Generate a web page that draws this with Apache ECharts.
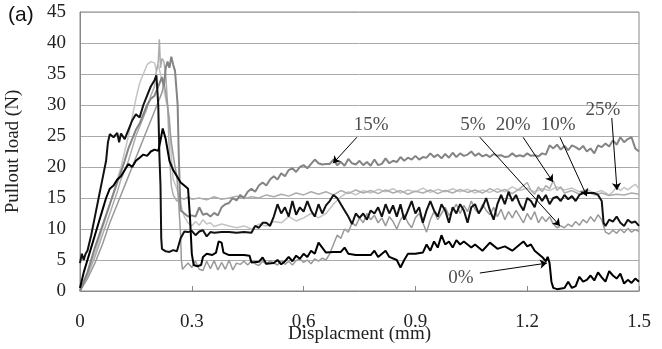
<!DOCTYPE html>
<html>
<head>
<meta charset="UTF-8">
<title>Pullout load</title>
<script src="https://cdn.jsdelivr.net/npm/echarts@6/dist/echarts.min.js"></script>
<style>
  html, body { margin: 0; padding: 0; background: #fff; }
  #main { width: 662px; height: 349px; }
</style>
</head>
<body>
<div id="main"></div>
<script>
// x = displacement (mm), y = pullout load (N)
var load0 = [[0,0.5],[0.01,3],[0.02,5],[0.03,7],[0.04,9],[0.05,11],[0.06,13],[0.07,15],[0.08,16.5],[0.09,17],[0.1,18],[0.11,18.5],[0.12,19.5],[0.13,20.5],[0.14,20],[0.15,21],[0.16,21.5],[0.17,22],[0.18,21.8],[0.19,22.5],[0.2,22.8],[0.21,22.6],[0.215,24],[0.222,26.2],[0.23,24.5],[0.24,21],[0.25,19.5],[0.26,18.5],[0.27,17.5],[0.28,17],[0.29,16.5],[0.295,12],[0.3,6],[0.305,4.2],[0.315,4],[0.325,4.2],[0.33,5.5],[0.34,6],[0.355,5.8],[0.365,6.2],[0.372,8],[0.38,7.8],[0.385,6.2],[0.4,5.8],[0.42,5.8],[0.44,5.8],[0.455,5.7],[0.46,4.6],[0.48,4.7],[0.49,5.4],[0.5,4.4],[0.52,4.5],[0.53,5],[0.54,4.3],[0.55,4.8],[0.56,5.5],[0.57,4.8],[0.58,5.7],[0.59,5.2],[0.6,6],[0.61,5.5],[0.62,6.5],[0.63,6],[0.64,7.8],[0.65,7],[0.66,6.2],[0.68,6.3],[0.7,6.3],[0.71,7],[0.72,6],[0.74,5.8],[0.76,5.8],[0.78,5.8],[0.79,6.5],[0.8,5.5],[0.82,6.5],[0.83,5.5],[0.85,5],[0.86,3.8],[0.87,5],[0.88,6],[0.9,6],[0.92,6.2],[0.93,7.5],[0.94,6.5],[0.95,8],[0.96,7],[0.97,9],[0.98,7.5],[0.99,8],[1.0,7],[1.01,8.2],[1.02,7.5],[1.03,8],[1.05,7],[1.06,7.5],[1.08,6.5],[1.1,7.8],[1.12,6.8],[1.14,7.2],[1.16,6.5],[1.18,7.5],[1.19,8],[1.2,7.2],[1.21,7.5],[1.22,6.5],[1.24,5.5],[1.25,4.8],[1.255,5.5],[1.26,4.5],[1.265,1.5],[1.27,0.5],[1.28,0.3],[1.3,0.5],[1.31,1.5],[1.32,0.5],[1.33,0.8],[1.34,2.3],[1.35,1.5],[1.36,1.8],[1.37,2.5],[1.38,1.7],[1.39,3],[1.4,2.2],[1.41,1.5],[1.42,3.2],[1.43,2.5],[1.44,2],[1.45,2.8],[1.46,1.2],[1.47,1.8],[1.48,1.3],[1.49,2],[1.5,1.5]];

var load5 = [[0,0],[0.02,2],[0.04,4.5],[0.06,7.5],[0.08,11],[0.1,14],[0.12,17],[0.14,20],[0.16,23],[0.18,26],[0.19,27.5],[0.2,29],[0.21,30.5],[0.22,32],[0.225,33.5],[0.23,32],[0.235,30],[0.24,27],[0.245,24],[0.25,22],[0.255,20],[0.26,18.5],[0.265,14],[0.27,9],[0.272,5],[0.275,3.5],[0.28,3.3],[0.29,4.5],[0.3,3.8],[0.31,4.8],[0.32,3.5],[0.33,3.3],[0.34,4.8],[0.35,3.6],[0.36,4.9],[0.37,3.4],[0.38,4.6],[0.39,3.5],[0.4,5],[0.41,3.4],[0.42,4.5],[0.43,4.3],[0.44,4.8],[0.45,4.2],[0.46,4.9],[0.47,4.4],[0.48,4.1],[0.49,4.8],[0.5,4.3],[0.51,4.9],[0.52,4.5],[0.53,4.2],[0.54,4.9],[0.55,4.3],[0.56,4.8],[0.57,4.2],[0.58,4.9],[0.59,5.2],[0.6,4.6],[0.61,5],[0.62,4.4],[0.63,5.2],[0.64,4.8],[0.65,5.3],[0.66,5],[0.67,6],[0.68,7.5],[0.69,9],[0.7,8.5],[0.71,10],[0.72,9.5],[0.73,11],[0.74,10.5],[0.75,11.8],[0.76,11],[0.77,12.5],[0.78,11.5],[0.79,12.2],[0.8,11],[0.81,11.8],[0.82,10.5],[0.83,12],[0.84,11.2],[0.85,10],[0.86,11.5],[0.87,12.3],[0.88,11],[0.89,10.2],[0.9,11.8],[0.91,12.5],[0.92,11],[0.93,9.5],[0.94,11.5],[0.95,12.8],[0.96,11.5],[0.97,12.5],[0.98,13.5],[0.99,12.2],[1.0,13],[1.01,14],[1.02,12.5],[1.03,13.8],[1.04,12.8],[1.05,14.5],[1.06,13.2],[1.07,12.5],[1.08,14],[1.09,13],[1.1,12.3],[1.11,13.5],[1.12,12],[1.13,13.2],[1.14,11.5],[1.15,12.8],[1.16,11.8],[1.17,13],[1.18,12],[1.19,11],[1.2,12.5],[1.21,11.5],[1.22,12.8],[1.23,11],[1.24,12],[1.25,11.2],[1.26,12],[1.27,10.8],[1.28,10.2],[1.29,10.5],[1.3,10.2],[1.31,10.8],[1.32,10.4],[1.33,11.2],[1.34,10.6],[1.35,11.5],[1.36,11],[1.37,12],[1.38,11.2],[1.39,12.3],[1.4,11.5],[1.41,9.5],[1.42,9.2],[1.43,9.8],[1.44,9.3],[1.45,10],[1.46,9.4],[1.47,10.1],[1.48,9.5],[1.49,9.9],[1.5,9.6]];

var load10 = [[0,4.5],[0.005,6],[0.01,5],[0.015,6],[0.02,6.5],[0.03,9],[0.04,12],[0.05,15],[0.06,18],[0.07,21],[0.075,24],[0.08,25.3],[0.09,24.8],[0.1,25.5],[0.105,24],[0.11,25.4],[0.12,24.5],[0.13,26],[0.14,27.5],[0.15,28.5],[0.16,28],[0.17,30],[0.18,31.5],[0.19,33],[0.2,34],[0.205,34.8],[0.21,30],[0.213,22],[0.216,17],[0.218,8.5],[0.22,6.8],[0.23,6.4],[0.24,6.3],[0.25,6.6],[0.26,6.4],[0.27,8.5],[0.28,9.6],[0.29,9.5],[0.3,9.7],[0.31,9],[0.32,9.6],[0.33,9.8],[0.34,8.8],[0.35,9.5],[0.36,9.4],[0.38,9.5],[0.4,9.5],[0.42,9.4],[0.44,9.5],[0.46,9.4],[0.47,10.5],[0.48,10.2],[0.49,11],[0.5,11],[0.51,10.5],[0.52,12],[0.53,14],[0.54,12.5],[0.55,13.5],[0.56,12],[0.57,14.5],[0.58,12.3],[0.59,13.5],[0.6,12.8],[0.61,14.5],[0.62,13],[0.63,12],[0.64,14],[0.65,12.5],[0.66,13.8],[0.67,14.5],[0.68,15.5],[0.69,15],[0.7,14],[0.71,13],[0.72,12],[0.73,10.8],[0.74,12.5],[0.75,11.8],[0.76,12.5],[0.77,11.5],[0.78,13],[0.79,12.5],[0.8,13.5],[0.81,12],[0.82,14],[0.83,12.5],[0.84,13.8],[0.85,12],[0.86,14],[0.87,11.5],[0.88,13],[0.89,14.5],[0.9,12.5],[0.91,13.5],[0.92,11],[0.93,13],[0.94,14.5],[0.95,13],[0.96,12],[0.97,14],[0.98,13],[0.99,11],[1.0,13.5],[1.01,12.5],[1.02,14],[1.03,13],[1.04,11],[1.05,13.5],[1.06,14],[1.07,12.5],[1.08,13.5],[1.09,15],[1.1,13],[1.11,11.5],[1.12,14],[1.13,15.5],[1.14,14],[1.15,16],[1.16,14.5],[1.17,15.5],[1.18,14],[1.19,13],[1.2,15],[1.21,14.5],[1.22,13.5],[1.23,15.5],[1.24,14.5],[1.25,15.5],[1.26,14],[1.27,15],[1.28,15.2],[1.29,14.5],[1.3,15.5],[1.31,14.8],[1.32,15.3],[1.33,14.5],[1.34,15.5],[1.35,15.8],[1.36,15.8],[1.37,15.8],[1.38,15.8],[1.39,15.5],[1.4,14.5],[1.405,11],[1.41,10.5],[1.42,11.5],[1.43,11.2],[1.44,12],[1.45,11],[1.46,10.5],[1.47,11.5],[1.48,11],[1.49,11.2],[1.5,10.5]];

var load15 = [[0,0],[0.02,3],[0.04,7],[0.06,10.5],[0.08,14],[0.1,17.5],[0.12,21],[0.13,23],[0.14,24.5],[0.15,26],[0.16,27],[0.17,28.5],[0.18,30],[0.19,31],[0.2,31.5],[0.21,33],[0.22,34.5],[0.225,33],[0.23,36],[0.235,37],[0.24,36],[0.245,37.8],[0.25,36.5],[0.255,35.5],[0.26,35.8],[0.262,30],[0.265,22],[0.268,16],[0.27,13],[0.28,12.5],[0.29,12],[0.3,12.2],[0.31,12],[0.32,13.5],[0.33,12.3],[0.34,12.5],[0.35,12],[0.36,12.6],[0.37,12.2],[0.38,13.5],[0.39,14],[0.4,14.2],[0.41,15],[0.42,14.6],[0.43,15.5],[0.44,15],[0.45,16],[0.46,16.5],[0.47,16],[0.48,17],[0.49,17.5],[0.5,17],[0.51,18],[0.52,18.5],[0.53,18],[0.54,19],[0.55,18.5],[0.56,19.5],[0.57,19.8],[0.58,19.2],[0.59,20],[0.6,20.3],[0.61,19.8],[0.62,20.5],[0.63,21.2],[0.64,20.6],[0.65,20.4],[0.66,20.5],[0.67,20.5],[0.68,21.2],[0.69,20.3],[0.7,20.8],[0.71,20.2],[0.72,21.3],[0.73,20.6],[0.74,20.4],[0.75,21],[0.76,20.3],[0.77,20.8],[0.78,20.2],[0.79,21.2],[0.8,20.3],[0.81,20.5],[0.82,21.4],[0.83,20.6],[0.84,21],[0.85,20.8],[0.86,21.6],[0.87,21],[0.88,21.5],[0.89,21.2],[0.9,21.8],[0.91,21.2],[0.92,21.6],[0.93,21.5],[0.94,22.2],[0.95,21.6],[0.96,22],[0.97,21.4],[0.98,22.1],[0.99,21.5],[1.0,22.3],[1.01,21.6],[1.02,22.2],[1.03,21.8],[1.04,22],[1.05,22.5],[1.06,21.8],[1.07,22.2],[1.08,21.7],[1.09,22],[1.1,21.6],[1.11,22.1],[1.12,21.8],[1.13,21.9],[1.14,21.6],[1.15,21.7],[1.16,22.2],[1.17,21.7],[1.18,21.9],[1.19,21.7],[1.2,22.2],[1.21,21.8],[1.22,21.9],[1.23,21.7],[1.24,22.2],[1.25,22],[1.26,23.5],[1.27,23],[1.28,23.6],[1.29,22.8],[1.3,23.4],[1.31,22.7],[1.32,23.5],[1.33,23.2],[1.34,22.8],[1.35,23.4],[1.36,22.5],[1.37,23],[1.38,22.2],[1.39,23.5],[1.4,23.2],[1.41,23.8],[1.42,23.3],[1.43,24.3],[1.44,23.6],[1.45,24.8],[1.46,24],[1.47,24.5],[1.48,24.8],[1.49,23],[1.5,22.5]];

var load20 = [[0,0],[0.02,2.5],[0.04,5.5],[0.06,9],[0.08,12.5],[0.1,16],[0.11,18],[0.12,19.5],[0.13,21],[0.14,23],[0.15,25],[0.16,26.5],[0.17,28],[0.18,29.5],[0.19,31.5],[0.2,33],[0.205,35.5],[0.21,37],[0.213,40.6],[0.216,36],[0.22,37.5],[0.225,37],[0.23,35],[0.235,30],[0.24,22],[0.245,17],[0.25,15.5],[0.26,14.5],[0.27,15],[0.28,14.8],[0.29,15.2],[0.3,14.8],[0.32,15],[0.34,14.7],[0.36,15.2],[0.38,14.8],[0.4,15],[0.42,15.3],[0.44,14.9],[0.46,15.2],[0.48,15],[0.5,15.5],[0.52,15.2],[0.54,15.6],[0.56,15.3],[0.58,15.8],[0.6,15.5],[0.62,16],[0.64,15.6],[0.66,16],[0.68,15.5],[0.7,16.2],[0.72,15.7],[0.74,16.3],[0.76,15.8],[0.78,16.2],[0.8,15.7],[0.82,16.3],[0.84,15.8],[0.86,16.2],[0.88,15.6],[0.9,16.1],[0.92,15.8],[0.94,16.3],[0.96,15.7],[0.98,16.2],[1.0,15.8],[1.02,16.4],[1.04,15.9],[1.06,16.3],[1.08,15.8],[1.1,16.5],[1.12,15.9],[1.14,16.4],[1.16,15.7],[1.18,16.5],[1.2,17.5],[1.21,16.2],[1.22,15.6],[1.23,16.8],[1.24,16],[1.25,17],[1.26,16.5],[1.27,17.8],[1.28,16.2],[1.29,16.8],[1.3,15.8],[1.32,16.2],[1.34,15.6],[1.36,16],[1.38,15.5],[1.4,15.8],[1.42,15.4],[1.44,15.6],[1.46,15.5],[1.48,15.8],[1.5,15.6]];

var load25 = [[0,0],[0.02,3],[0.04,6],[0.06,10],[0.08,14],[0.1,18],[0.11,20],[0.12,22.5],[0.13,25],[0.14,28],[0.15,31],[0.16,33.5],[0.17,35],[0.18,36.5],[0.19,37],[0.2,36.8],[0.205,35.5],[0.21,36.5],[0.22,34],[0.23,31],[0.24,28],[0.245,22],[0.25,18],[0.26,16.5],[0.27,14],[0.28,12],[0.29,11],[0.3,10.5],[0.31,11.2],[0.32,10.6],[0.33,11.5],[0.34,10.8],[0.35,11],[0.36,10.4],[0.38,10.8],[0.4,10.5],[0.42,10.2],[0.44,10.5],[0.46,10],[0.48,10.8],[0.5,10.5],[0.52,11.2],[0.54,11],[0.56,12],[0.58,11.3],[0.6,11.8],[0.62,12.5],[0.64,11.8],[0.66,12.5],[0.68,14],[0.7,15.2],[0.72,16],[0.74,15.5],[0.76,16.2],[0.78,15.8],[0.8,16.4],[0.82,16],[0.84,16.5],[0.86,15.8],[0.88,16.3],[0.9,16],[0.92,16.6],[0.94,15.9],[0.96,16.4],[0.98,16],[1.0,16.5],[1.02,16],[1.04,16.4],[1.06,15.8],[1.08,16.3],[1.1,15.9],[1.12,16.5],[1.14,16],[1.16,16.8],[1.18,16.2],[1.2,16.6],[1.22,16],[1.24,16.5],[1.26,16.2],[1.28,16.8],[1.3,16.3],[1.32,16.6],[1.34,16],[1.36,16.4],[1.38,15.8],[1.4,16.2],[1.42,15.5],[1.43,16],[1.44,16.8],[1.45,16.2],[1.46,16.7],[1.47,16.3],[1.48,16.8],[1.49,17.2],[1.5,16.5]];

// annotation text and arrows: [label, textX, textY, fromX, fromY, toX, toY]
var notes = [
  ['15%', 0.781, 26.8, 0.743, 24.8, 0.679, 20.6],
  ['5%', 1.054, 26.8, 1.073, 24.8, 1.288, 10.5],
  ['20%', 1.162, 26.8, 1.189, 24.8, 1.269, 17.6],
  ['10%', 1.283, 26.8, 1.288, 24.8, 1.360, 15.3],
  ['25%', 1.403, 29.2, 1.427, 27.9, 1.441, 16.3],
  ['0%', 1.022, 2.1, 1.073, 2.9, 1.253, 4.5]
];

var serif = "'Liberation Serif', 'DejaVu Serif', serif";
var myChart = echarts.init(document.getElementById('main'));

function curve(name, data, color, width) {
  return {
    name: name, type: 'line', data: data, showSymbol: false, silent: true,
    lineStyle: { color: color, width: width }, z: 2
  };
}

var option = {
  animation: false,
  grid: {
    left: 80, right: 23, top: 12, bottom: 58, show: true, borderColor: '#888', borderWidth: 1,
    containLabel: false, outerBoundsMode: 'none'
  },
  graphic: [{ type: 'text', left: 8, top: 5, style: { text: '(a)', font: "21px 'Liberation Sans', Arial, sans-serif", fill: '#111' } }],
  xAxis: {
    type: 'value', min: 0, max: 1.5, interval: 0.3,
    name: 'Displacment (mm)', nameLocation: 'middle', nameGap: 34, nameMoveOverlap: false,
    nameTextStyle: { fontFamily: serif, fontSize: 19, color: '#222' },
    axisLine: { show: true, lineStyle: { color: '#888' } },
    axisTick: { show: true, inside: true, length: 5, lineStyle: { color: '#888' } },
    axisLabel: { fontFamily: serif, fontSize: 19, color: '#222', margin: 22,
      formatter: function (v) { return String(+v.toFixed(1)); } },
    splitLine: { show: false }
  },
  yAxis: {
    type: 'value', min: 0, max: 45, interval: 5,
    name: 'Pullout load (N)', nameLocation: 'middle', nameGap: 57, nameMoveOverlap: false,
    nameTextStyle: { fontFamily: serif, fontSize: 19, color: '#222' },
    axisLine: { show: true, lineStyle: { color: '#888' } },
    axisTick: { show: false },
    axisLabel: { fontFamily: serif, fontSize: 19, color: '#222', margin: 14 },
    splitLine: { lineStyle: { color: '#aaa', width: 1 } }
  },
  series: [
    curve('25%', load25, '#c4c4c4', 1.5),
    curve('20%', load20, '#acacac', 1.5),
    curve('5%', load5, '#9a9a9a', 1.5),
    curve('15%', load15, '#848484', 2),
    curve('10%', load10, '#111', 2),
    curve('0%', load0, '#000', 2),
    {
      type: 'scatter', silent: true, symbolSize: 0, z: 5,
      data: notes.map(function (n) { return { name: n[0], value: [n[1], n[2]] }; }),
      label: { show: true, position: 'inside', formatter: '{b}', fontFamily: serif, fontSize: 19, color: '#222' },
      markLine: {
        silent: true, symbol: ['none', 'arrow'], symbolSize: 7,
        lineStyle: { color: '#000', width: 1, type: 'solid' },
        label: { show: false },
        data: notes.map(function (n) { return [{ coord: [n[3], n[4]] }, { coord: [n[5], n[6]] }]; })
      }
    }
  ]
};
myChart.setOption(option);
</script>
</body>
</html>
